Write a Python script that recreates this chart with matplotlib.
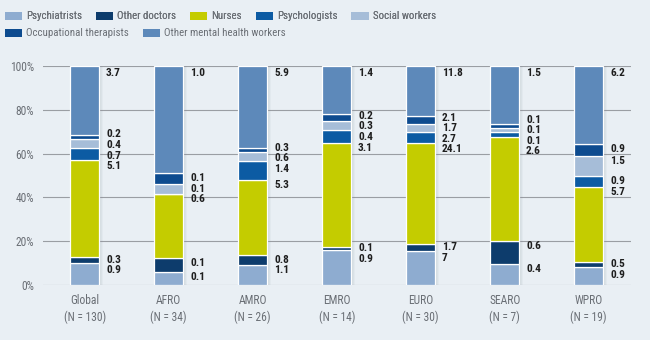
import numpy as np
import matplotlib
matplotlib.use("Agg")
from matplotlib import pyplot as plt
from matplotlib.patches import Patch

plt.rcParams['font.family'] = ['Roboto Condensed', 'Archivo Narrow', 'Liberation Sans Narrow', 'DejaVu Sans']

regions = ["Global", "AFRO", "AMRO", "EMRO", "EURO", "SEARO", "WPRO"]
n_countries = [130, 34, 26, 14, 30, 7, 19]
categories = ["Psychiatrists", "Other doctors", "Nurses", "Psychologists",
              "Social workers", "Occupational therapists", "Other mental health workers"]

# share of workforce (%) per category (bottom to top)
psychiatrists = [10.0, 6.2, 9.1, 16.1, 15.6, 9.7, 8.2]
other_doctors = [2.7, 6.1, 4.7, 1.2, 3.2, 10.6, 2.4]
nurses = [44.4, 29.1, 34.2, 47.3, 46.1, 47.1, 34.3]
psychologists = [5.6, 0.0, 8.8, 6.1, 5.1, 2.3, 5.0]
social_workers = [3.8, 4.6, 4.0, 4.3, 3.4, 1.8, 9.0]
occ_therapists = [1.9, 5.0, 1.9, 3.0, 3.8, 1.8, 5.3]
other_mh = [31.6, 49.0, 37.3, 22.0, 22.8, 26.7, 35.8]

# rates printed next to the segments (None = no label)
lab_psychiatrists = ["0.9", "0.1", "1.1", "0.9", "7", "0.4", "0.9"]
lab_other_doctors = ["0.3", "0.1", "0.8", "0.1", "1.7", "0.6", "0.5"]
lab_nurses = ["5.1", "0.6", "5.3", "3.1", "24.1", "2.6", "5.7"]
lab_psychologists = ["0.7", None, "1.4", "0.4", "2.7", "0.1", "0.9"]
lab_social = ["0.4", "0.1", "0.6", "0.3", "1.7", "0.1", "1.5"]
lab_occ = ["0.2", "0.1", "0.3", "0.2", "2.1", "0.1", "0.9"]
lab_other_mh = ["3.7", "1.0", "5.9", "1.4", "11.8", "1.5", "6.2"]

colors = ["#8eacd0", "#0d3c6c", "#c4cc00", "#0c5ba3", "#a6bdd8", "#0d4b8f", "#5d89ba"]
bg = "#e9eff4"

series = [psychiatrists, other_doctors, nurses, psychologists, social_workers, occ_therapists, other_mh]
labels = [lab_psychiatrists, lab_other_doctors, lab_nurses, lab_psychologists, lab_social, lab_occ, lab_other_mh]

fig = plt.figure(figsize=(6.5, 3.4), dpi=100, facecolor=bg)
ax = fig.add_axes([0.0657, 0.1609, 0.9046, 0.6459], facecolor=bg)

x = np.arange(len(regions))
w = 0.34

# soft shadow to the right of each bar
for off, a in [(0.05, 0.06), (0.035, 0.07), (0.02, 0.08)]:
    ax.bar(x + off, np.full(len(x), 100.0), width=w, bottom=0, color="#7d8a96", alpha=a, zorder=2, linewidth=0)

bottom = np.zeros(len(regions))
for vals, c in zip(series, colors):
    ax.bar(x, vals, width=w, bottom=bottom, color=c, edgecolor="white", linewidth=0.9, zorder=3)
    bottom += np.array(vals)

# value labels: aim a bit below the segment top, then spread clashing labels evenly
gap = 4.8
for i in range(len(regions)):
    tops = np.cumsum([s[i] for s in series])
    items = [(tops[k] - 2.2, labels[k][i]) for k in range(len(series)) if labels[k][i] is not None]
    clusters = [[p] for p in items]
    changed = True
    while changed:
        changed = False
        spans = []
        for cl in clusters:
            m = np.mean([p[0] for p in cl])
            n = len(cl)
            spans.append((m - gap * (n - 1) / 2, m + gap * (n - 1) / 2))
        for j in range(len(clusters) - 1):
            if spans[j + 1][0] - spans[j][1] < gap:
                clusters[j] = clusters[j] + clusters[j + 1]
                del clusters[j + 1]
                changed = True
                break
    for cl in clusters:
        m = np.mean([p[0] for p in cl])
        n = len(cl)
        for j, p in enumerate(cl):
            y = m + gap * (j - (n - 1) / 2)
            y = min(y, 96.8)
            ax.text(i + w / 2 + 0.085, y, p[1], ha="left", va="center",
                    fontsize=8.2, color="#1e1e1e", fontweight="bold", zorder=4)

ax.set_xlim(-0.5, 6.5)
ax.set_ylim(0, 100)
ax.set_yticks([0, 20, 40, 60, 80, 100])
ax.set_yticklabels([f"{v}%" for v in [0, 20, 40, 60, 80, 100]])
ax.set_xticks(x)
ax.set_xticklabels([f"{r}\n(N = {n})" for r, n in zip(regions, n_countries)], linespacing=1.35)
ax.tick_params(axis="both", length=0, labelsize=8.3, labelcolor="#6a6f75")
ax.tick_params(axis="y", pad=6)
ax.tick_params(axis="x", pad=6)
ax.grid(axis="y", color="#9a9ea3", linewidth=0.8, zorder=1)
for s in ax.spines.values():
    s.set_visible(False)

handles = [Patch(facecolor=c, edgecolor="none") for c in colors]
kw = dict(frameon=False, fontsize=7.8, handlelength=1.6, handleheight=0.8,
          handletextpad=0.35, columnspacing=1.3, labelcolor="#6a6f75")
leg1 = fig.legend(handles[:5], categories[:5], ncol=5, loc="upper left",
                  bbox_to_anchor=(-0.008, 0.995), **kw)
fig.add_artist(leg1)
fig.legend(handles[5:], categories[5:], ncol=2, loc="upper left",
           bbox_to_anchor=(-0.008, 0.945), **kw)

fig.savefig("out.png", dpi=100, facecolor=bg)
